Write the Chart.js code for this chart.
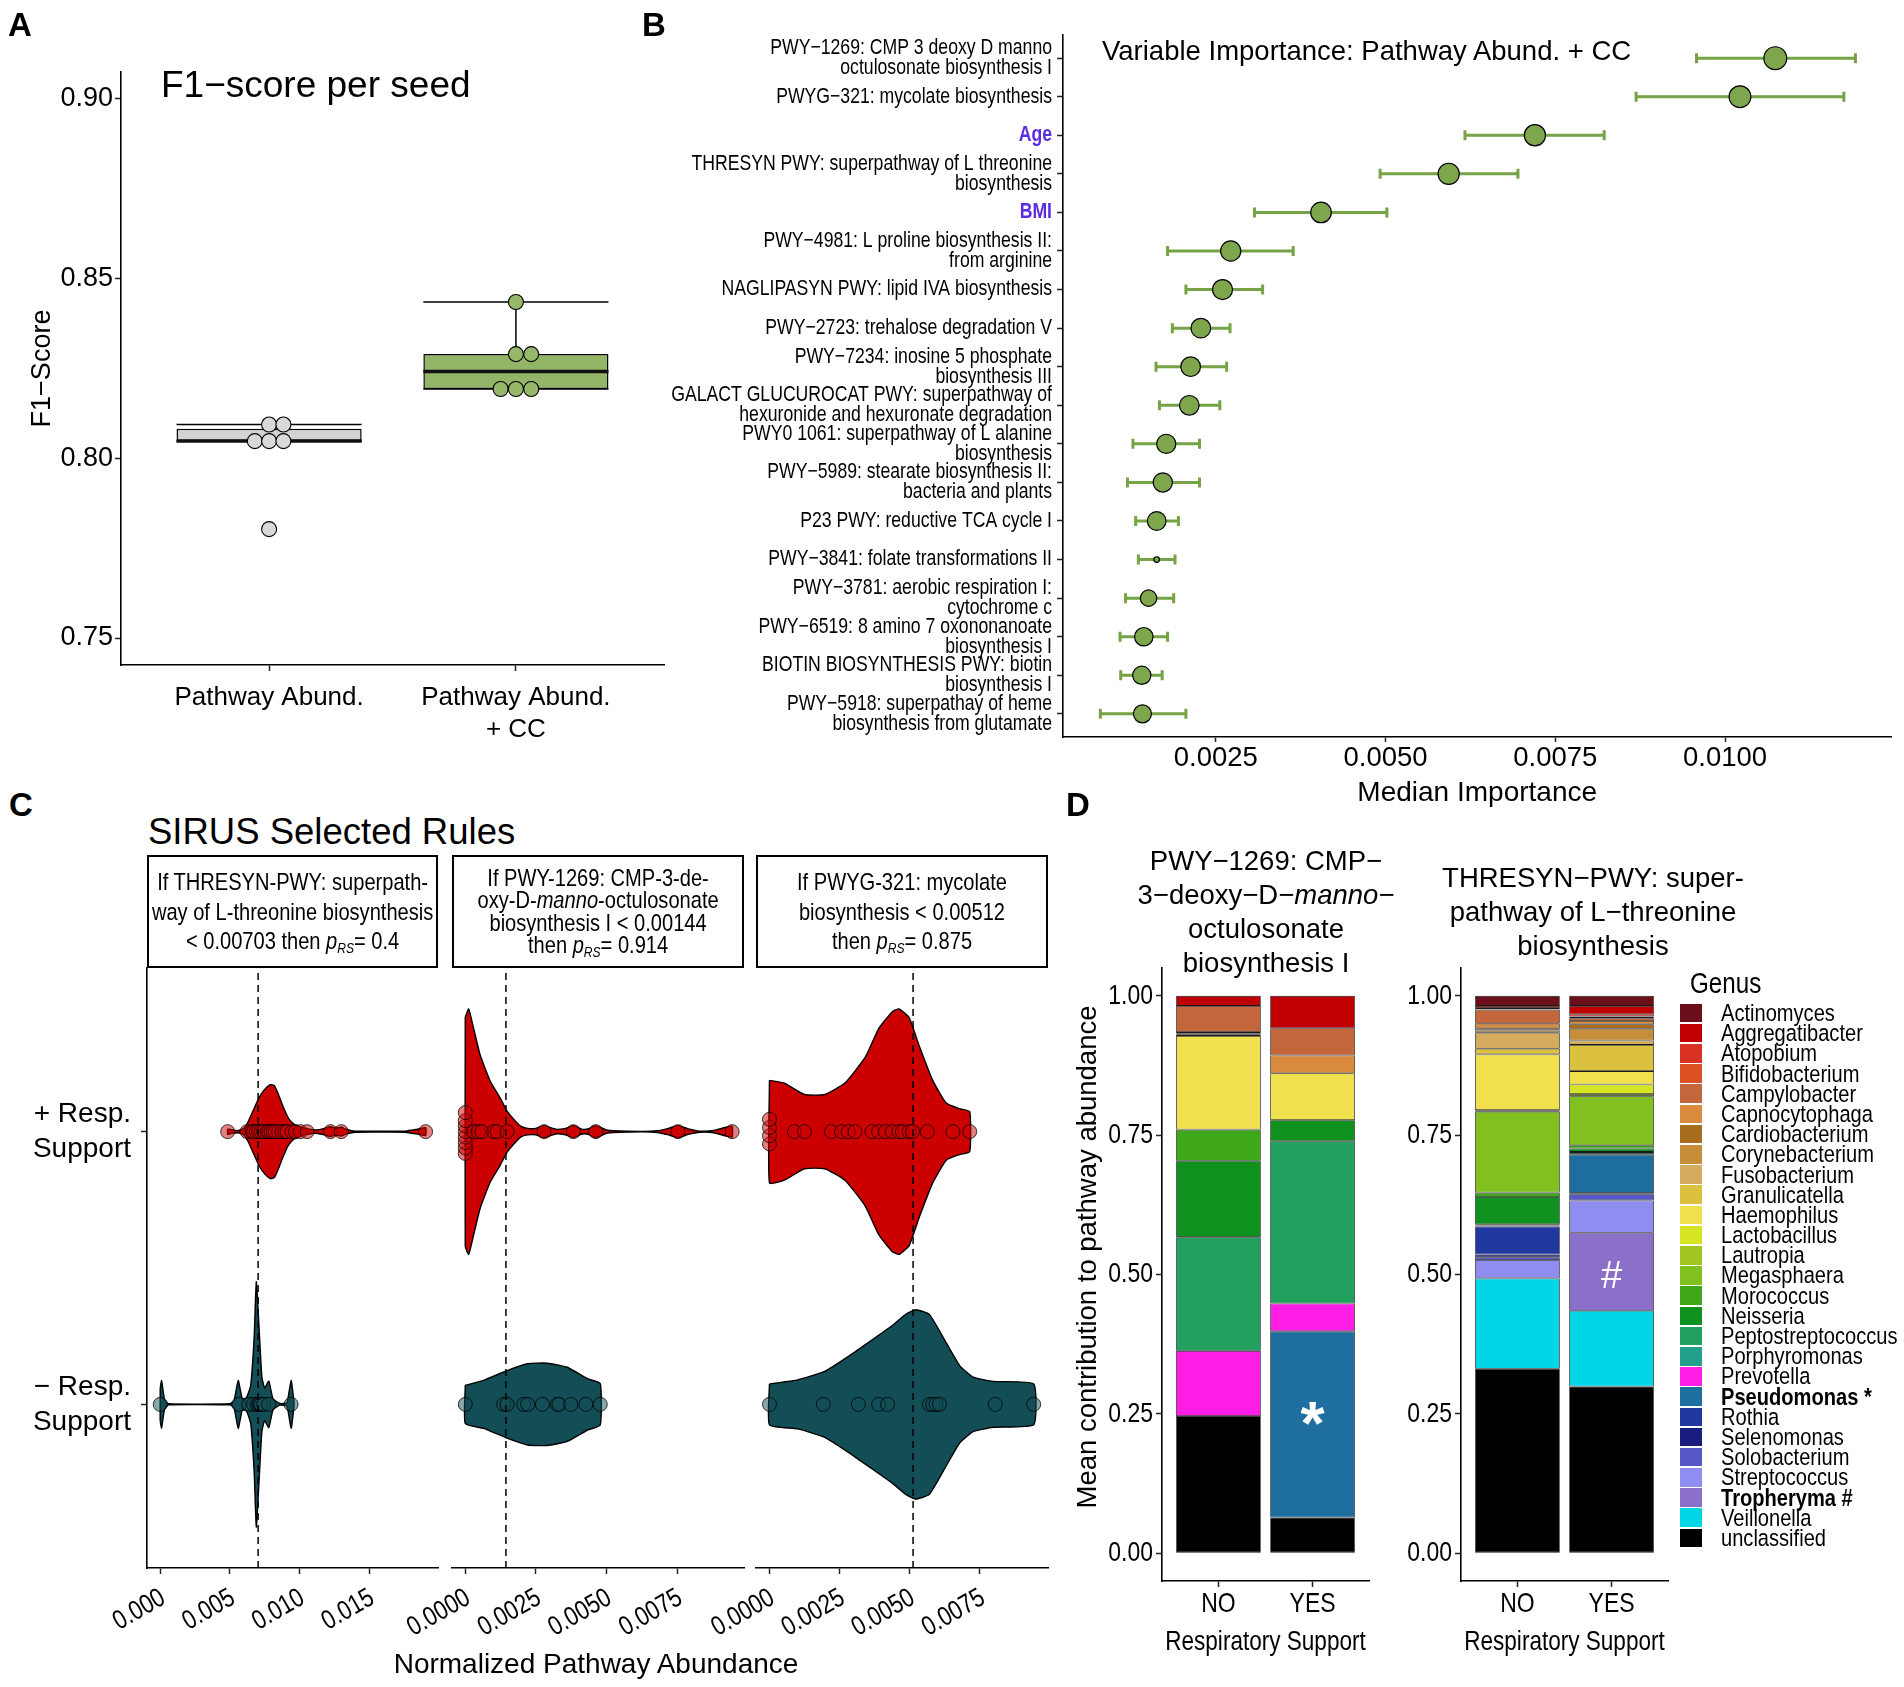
<!DOCTYPE html>
<html><head><meta charset="utf-8">
<script src="https://cdn.jsdelivr.net/npm/chart.js@4.4.1/dist/chart.umd.min.js"></script>
<style>
html,body{margin:0;padding:0;background:#fff;}
#page{position:relative;width:1904px;height:1687px;overflow:hidden;background:#fff;font-family:'Liberation Sans',Arial,sans-serif;color:#000;}
canvas{position:absolute;}
.t{position:absolute;white-space:nowrap;line-height:1;}
.nx{display:inline-block;transform:scaleX(0.82);transform-origin:left center;white-space:nowrap;}
.strip{position:absolute;box-sizing:border-box;border:2px solid #000;display:flex;align-items:center;justify-content:center;text-align:center;white-space:nowrap;}
.strip .in{transform:scaleX(0.82);transform-origin:center center;}
.strip sub{font-size:60%;vertical-align:-0.3em;line-height:0;}
</style></head><body><div id="page"></div>
<script>
// ---------------- DATA ----------------
// Panel A: F1-score per seed
const modelsA = ['Pathway Abund.', 'Pathway Abund.\n+ CC'];
const f1PathwayAbund   = [0.8094, 0.8094, 0.8048, 0.8048, 0.8048, 0.7803];
const f1PathwayAbundCC = [0.8435, 0.8290, 0.8290, 0.8193, 0.8193, 0.8193];
const jitterPathwayAbund   = [0.000, 0.058, -0.058, 0.000, 0.058, 0.000];
const jitterPathwayAbundCC = [0.000, 0.000, 0.062, -0.062, 0.000, 0.062];
const ticksA = [0.75, 0.80, 0.85, 0.90];

// Panel B: variable importance
const featuresB = [
  'PWY−1269: CMP 3 deoxy D manno\noctulosonate biosynthesis I',
  'PWYG−321: mycolate biosynthesis',
  'Age',
  'THRESYN PWY: superpathway of L threonine\nbiosynthesis',
  'BMI',
  'PWY−4981: L proline biosynthesis II:\nfrom arginine',
  'NAGLIPASYN PWY: lipid IVA biosynthesis',
  'PWY−2723: trehalose degradation V',
  'PWY−7234: inosine 5 phosphate\nbiosynthesis III',
  'GALACT GLUCUROCAT PWY: superpathway of\nhexuronide and hexuronate degradation',
  'PWY0 1061: superpathway of L alanine\nbiosynthesis',
  'PWY−5989: stearate biosynthesis II:\nbacteria and plants',
  'P23 PWY: reductive TCA cycle I',
  'PWY−3841: folate transformations II',
  'PWY−3781: aerobic respiration I:\ncytochrome c',
  'PWY−6519: 8 amino 7 oxononanoate\nbiosynthesis I',
  'BIOTIN BIOSYNTHESIS PWY: biotin\nbiosynthesis I',
  'PWY−5918: superpathay of heme\nbiosynthesis from glutamate'
];
const covariatesB = ['Age', 'BMI'];
const medianImportance = [0.01074, 0.01022, 0.00720, 0.00593, 0.00405, 0.00272, 0.00260, 0.00228, 0.00213, 0.00211, 0.00177, 0.00172, 0.00163, 0.00163, 0.00151, 0.00144, 0.00141, 0.00142];
const importanceLow    = [0.00958, 0.00869, 0.00617, 0.00492, 0.00307, 0.00179, 0.00206, 0.00186, 0.00162, 0.00167, 0.00128, 0.00120, 0.00132, 0.00136, 0.00117, 0.00109, 0.00110, 0.00080];
const importanceHigh   = [0.01192, 0.01175, 0.00822, 0.00695, 0.00502, 0.00364, 0.00319, 0.00271, 0.00266, 0.00256, 0.00226, 0.00226, 0.00195, 0.00190, 0.00188, 0.00179, 0.00171, 0.00206];
const pointSizeB       = [11.4, 10.9, 10.6, 10.6, 10.3, 10.1, 10.0, 9.8, 9.8, 9.8, 9.6, 9.6, 9.3, 2.8, 8.2, 9.2, 9.1, 9.0];
const ticksB = [0.0025, 0.0050, 0.0075, 0.0100];

// Panel C: SIRUS rules
const ruleThresholds = [0.00703, 0.00144, 0.00512];
const rulePRS = ['0.4', '0.914', '0.875'];
const respRows = ['− Resp.\nSupport', '+ Resp.\nSupport'];
const ticksC1 = [0.000, 0.005, 0.010, 0.015];
const ticksC23 = [0.0000, 0.0025, 0.0050, 0.0075];
// violin half-width profiles [abundance, half-width]
const densTHR_plus = [[0.00484,0.010],[0.0052,0.006],[0.0056,0.004],[0.0060,0.012],[0.0063,0.035],[0.0067,0.080],[0.0071,0.125],[0.0075,0.155],[0.0079,0.172],[0.0082,0.168],[0.0085,0.135],[0.0088,0.095],[0.0092,0.050],[0.0096,0.028],[0.0101,0.016],[0.0106,0.010],[0.0112,0.006],[0.0118,0.012],[0.0122,0.018],[0.0126,0.013],[0.0130,0.016],[0.0134,0.008],[0.0140,0.002],[0.0160,0.0015],[0.0176,0.002],[0.0184,0.008],[0.01906,0.014]];
const densTHR_minus = [[0.0000,0.060],[0.0001,0.087],[0.0003,0.020],[0.0006,0.002],[0.0050,0.002],[0.0053,0.012],[0.0056,0.088],[0.0059,0.020],[0.0062,0.025],[0.0065,0.070],[0.00675,0.250],[0.0069,0.450],[0.0071,0.280],[0.0073,0.100],[0.0075,0.060],[0.0078,0.085],[0.0081,0.020],[0.0086,0.003],[0.0091,0.006],[0.0094,0.088],[0.0096,0.010]];
const densPWY_plus = [[0.0000,0.420],[0.00012,0.450],[0.0003,0.377],[0.00053,0.280],[0.00089,0.184],[0.00124,0.123],[0.00148,0.075],[0.00172,0.045],[0.00196,0.020],[0.0022,0.012],[0.0025,0.012],[0.00279,0.022],[0.0031,0.012],[0.00326,0.008],[0.00355,0.012],[0.00383,0.022],[0.0041,0.010],[0.00421,0.008],[0.0044,0.012],[0.00462,0.022],[0.0050,0.006],[0.00527,0.003],[0.00622,0.001],[0.0068,0.003],[0.0072,0.012],[0.00753,0.022],[0.0079,0.010],[0.0083,0.002],[0.0088,0.004],[0.0092,0.015],[0.00945,0.020]];
const densPWY_minus = [[0.0000,0.070],[0.00065,0.088],[0.00148,0.124],[0.0022,0.149],[0.0029,0.151],[0.00361,0.136],[0.00433,0.094],[0.00478,0.076]];
const densMYC_plus = [[0.0000,0.188],[0.00053,0.178],[0.00125,0.136],[0.00197,0.136],[0.00269,0.178],[0.00341,0.272],[0.00389,0.377],[0.00438,0.440],[0.00462,0.450],[0.00498,0.418],[0.00534,0.314],[0.00582,0.188],[0.0063,0.105],[0.00678,0.084],[0.00714,0.073]];
const densMYC_minus = [[0.0000,0.075],[0.00101,0.090],[0.00197,0.121],[0.00293,0.184],[0.00365,0.236],[0.00438,0.289],[0.00486,0.330],[0.00522,0.347],[0.0057,0.330],[0.0063,0.226],[0.00678,0.142],[0.00726,0.100],[0.00798,0.084],[0.00942,0.075]];
// observed abundances (points) and small vertical jitter
const ptsTHR_plus = [0.00484,0.00624,0.00660,0.00671,0.00690,0.00707,0.00725,0.00743,0.00767,0.00780,0.00796,0.00811,0.00827,0.00851,0.00875,0.00895,0.00911,0.00947,0.00971,0.01007,0.01055,0.01223,0.01300,0.01906];
const ptsTHR_minus = [0.0000,0.00564,0.00636,0.00671,0.00695,0.00707,0.00715,0.00724,0.00743,0.00779,0.00940];
const ptsPWY_plus = [0,0,0,0,0,0,0,0,0.00030,0.00047,0.00059,0.00101,0.00113,0.00148,0.00279,0.00383,0.00462,0.00753,0.00945];
const jitPWY_plus = [-0.08,-0.06,-0.04,-0.02,0.00,0.02,0.04,0.07,0,0,0,0,0,0,0,0,0,0,0];
const ptsPWY_minus = [0.0000,0.00136,0.00148,0.00207,0.00221,0.00273,0.00326,0.00332,0.00374,0.00427,0.00478];
const ptsMYC_plus = [0,0,0,0,0.00089,0.00125,0.00221,0.00257,0.00281,0.00305,0.00365,0.00389,0.00413,0.00438,0.00462,0.00474,0.00498,0.00510,0.00563,0.00654,0.00714];
const jitMYC_plus = [-0.045,-0.015,0.015,0.045,0,0,0,0,0,0,0,0,0,0,0,0,0,0,0,0,0];
const ptsMYC_minus = [0.0000,0.00192,0.00317,0.00389,0.00421,0.00570,0.00582,0.00594,0.00606,0.00805,0.00942];

// Panel D: genus contributions
const genera = ['Actinomyces','Aggregatibacter','Atopobium','Bifidobacterium','Campylobacter','Capnocytophaga','Cardiobacterium','Corynebacterium','Fusobacterium','Granulicatella','Haemophilus','Lactobacillus','Lautropia','Megasphaera','Morococcus','Neisseria','Peptostreptococcus','Porphyromonas','Prevotella','Pseudomonas','Rothia','Selenomonas','Solobacterium','Streptococcus','Tropheryma','Veillonella','unclassified'];
const genusColors = ['#6b0f1a','#c00000','#da3224','#dd5123','#c4663c','#da8a3c','#a86d1d','#c68d3b','#d5ab5e','#dcc13e','#f0e04e','#d5e524','#a3c522','#80c11f','#3fa81a','#0f9120','#22a05e','#23a08c','#ff1ee6','#1e6fa0','#2038a0','#191b7d','#5758c7','#8f8ef0','#8a70c9','#00d6e6','#000000'];
const boldGenera = {'Pseudomonas':' *', 'Tropheryma':' #'};
const respLevels = ['NO', 'YES'];
const pwy1269_NO  = [0,0.018,0,0,0.047,0.003,0,0.002,0.002,0,0.168,0,0,0,0.056,0.137,0.204,0,0.117,0,0,0,0,0,0,0,0.246];
const pwy1269_YES = [0,0.058,0,0,0.049,0.032,0,0,0,0,0.084,0,0,0,0,0.038,0.291,0,0.050,0.334,0,0,0,0,0,0,0.064];
const thresyn_NO  = [0.018,0.004,0.002,0.001,0.025,0.008,0.004,0.004,0.029,0.010,0.100,0.001,0.002,0.145,0.008,0.049,0.002,0.002,0,0,0.050,0.005,0.005,0.033,0,0.162,0.331];
const thresyn_YES = [0.018,0.015,0.004,0.003,0.005,0.006,0.008,0.021,0.008,0.047,0.024,0.017,0.004,0.088,0.006,0.006,0.002,0.003,0,0.069,0,0.002,0.011,0.058,0.140,0.136,0.299];
const markerPWY = {text:'*', x:2, y:0.25};
const markerTHR = {text:'#', x:2, y:0.50};
const ticksD = [0, 0.25, 0.50, 0.75, 1.00];

// ---------------- HELPERS ----------------
const SANS = "'Liberation Sans', Arial, sans-serif";
// condensed face (Arial Narrow look): drawn with Liberation Sans compressed horizontally
const NARROW = "'Liberation Sans Narrow', 'Liberation Sans', Arial, sans-serif";
const NSCALE = 0.82;
(function(){
  const P = CanvasRenderingContext2D.prototype, f = P.fillText, m = P.measureText;
  P.fillText = function(t, x, y, mw){
    if (/Narrow/.test(this.font)) {
      this.save(); this.translate(x, y); this.scale(NSCALE, 1);
      if (mw !== undefined && mw !== null) f.call(this, t, 0, 0, mw / NSCALE); else f.call(this, t, 0, 0);
      this.restore();
    } else if (mw !== undefined && mw !== null) f.call(this, t, x, y, mw); else f.call(this, t, x, y);
  };
  P.measureText = function(t){
    const r = m.call(this, t);
    if (!/Narrow/.test(this.font)) return r;
    return {width:r.width*NSCALE, actualBoundingBoxLeft:r.actualBoundingBoxLeft*NSCALE, actualBoundingBoxRight:r.actualBoundingBoxRight*NSCALE,
      actualBoundingBoxAscent:r.actualBoundingBoxAscent, actualBoundingBoxDescent:r.actualBoundingBoxDescent,
      fontBoundingBoxAscent:r.fontBoundingBoxAscent, fontBoundingBoxDescent:r.fontBoundingBoxDescent};
  };
})();
const page = document.getElementById('page');
Chart.defaults.color = '#000';
function mkCanvas(x, y, w, h){ const c=document.createElement('canvas'); c.width=w; c.height=h; Object.assign(c.style,{left:x+'px',top:y+'px',width:w+'px',height:h+'px'}); page.appendChild(c); return c; }
function el(cls, style, html){ const e=document.createElement('div'); e.className=cls; Object.assign(e.style, style); e.innerHTML=html; page.appendChild(e); return e; }
function fixW(w){ return s=>{ s.width=w; s.paddingTop=0; s.paddingBottom=0; s.paddingLeft=0; s.paddingRight=0; }; }
function fixH(h){ return s=>{ s.height=h; s.paddingTop=0; s.paddingBottom=0; s.paddingLeft=0; s.paddingRight=0; }; }
function setTicks(v){ return s=>{ s.ticks=v.map(x=>({value:x})); }; }
function axis(extra){
  return Object.assign({
    offset:false,
    border:{display:true,color:'#000',width:1.6},
    grid:{display:true,drawOnChartArea:false,drawTicks:true,tickLength:6,tickColor:'#222',tickWidth:1.5,offset:false}
  }, extra);
}
function segData(segs){ const out=[]; segs.forEach(([x1,y1,x2,y2])=>{ out.push({x:x1,y:y1},{x:x2,y:y2},{x:x2,y:null}); }); return out; }
function q7(arr,p){ const s=[...arr].sort((a,b)=>a-b); const h=(s.length-1)*p; const lo=Math.floor(h); const hi=Math.min(lo+1,s.length-1); return s[lo]+(h-lo)*(s[hi]-s[lo]); }
function boxStats(v){ const q1=q7(v,.25),med=q7(v,.5),q3=q7(v,.75),iqr=q3-q1; const ins=v.filter(x=>x>=q1-1.5*iqr&&x<=q3+1.5*iqr); return {q1,med,q3,lo:Math.min(...ins),hi:Math.max(...ins)}; }
const baseOpts = { responsive:false, animation:false, devicePixelRatio:1, events:[], plugins:{legend:{display:false}, tooltip:{enabled:false}} };

// ---------------- PANEL A ----------------
(function(){
  const groups=[f1PathwayAbund,f1PathwayAbundCC], jit=[jitterPathwayAbund,jitterPathwayAbundCC];
  const stats=groups.map(boxStats), h=0.375;
  const boxFill=['#d3d3d3','#93b567'], ptFill=['#d9d9d9','#97b86a'];
  const whisk=[], med=[];
  stats.forEach((s,i)=>{ const c=i+1;
    whisk.push([c,s.q3,c,s.hi],[c,s.lo,c,s.q1],[c-h,s.hi,c+h,s.hi],[c-h,s.lo,c+h,s.lo]);
    med.push([c-h,s.med,c+h,s.med]); });
  const ds=[
    {type:'bar',data:stats.map((s,i)=>({x:i+1,y:[s.q1,s.q3]})),backgroundColor:boxFill,borderColor:'#000',borderWidth:1.5,borderSkipped:false,categoryPercentage:1,barPercentage:0.75,order:5},
    {type:'line',data:segData(whisk),borderColor:'#000',borderWidth:1.5,pointRadius:0,fill:false,order:4},
    {type:'line',data:segData(med),borderColor:'#111',borderWidth:3.5,pointRadius:0,fill:false,order:3}
  ];
  groups.forEach((g,i)=>ds.push({type:'scatter',data:g.map((v,j)=>({x:i+1+jit[i][j],y:v})),pointRadius:7.5,backgroundColor:ptFill[i],borderColor:'#000',borderWidth:1.1,order:1}));
  new Chart(mkCanvas(0,0,680,760),{type:'bar',data:{datasets:ds},options:Object.assign({},baseOpts,{
    layout:{padding:{left:0,top:72,right:16,bottom:0}},
    scales:{
      x:axis({type:'linear',min:0.4,max:2.6,afterBuildTicks:setTicks([1,2]),afterFit:fixH(95),
        ticks:{autoSkip:false,maxRotation:0,minRotation:0,padding:11,color:'#000',font:{family:SANS,size:26,lineHeight:32/26},callback:(v,i)=>modelsA[i].split('\n')}}),
      y:axis({type:'linear',min:0.7425,max:0.9075,afterBuildTicks:setTicks(ticksA),afterFit:fixW(121),
        ticks:{padding:2,color:'#000',font:{family:SANS,size:27},callback:v=>v.toFixed(2)},
        title:{display:true,text:'F1−Score',color:'#000',font:{family:SANS,size:27,lineHeight:1.2},padding:{top:26.8,bottom:0}}})
    }})});
})();

// ---------------- PANEL B ----------------
(function(){
  const d=0.13, segs=[];
  medianImportance.forEach((m,i)=>{ const r=i+1, lo=importanceLow[i], hi=importanceHigh[i];
    segs.push([lo,r,hi,r],[lo,r-d,lo,r+d],[hi,r-d,hi,r+d]); });
  const isCov=ctx=>ctx&&ctx.tick&&covariatesB.includes(featuresB[ctx.tick.value-1]);
  new Chart(mkCanvas(600,0,1304,830),{type:'scatter',data:{datasets:[
    {type:'line',data:segData(segs),borderColor:'#76a346',borderWidth:3,pointRadius:0,fill:false,order:2},
    {type:'scatter',data:medianImportance.map((v,i)=>({x:v,y:i+1})),pointRadius:pointSizeB,backgroundColor:'#7ea64d',borderColor:'#000',borderWidth:1.2,order:1}
  ]},options:Object.assign({},baseOpts,{
    layout:{padding:{left:0,top:35,right:7,bottom:0}},
    scales:{
      x:axis({type:'linear',min:0.00025,max:0.01245,afterBuildTicks:setTicks(ticksB),afterFit:fixH(93),
        grid:{display:true,drawOnChartArea:false,drawTicks:true,tickLength:5,tickColor:'#222',tickWidth:1.5,offset:false},
        ticks:{autoSkip:false,maxRotation:0,minRotation:0,padding:0,color:'#000',font:{family:SANS,size:27.5},callback:v=>v.toFixed(4)},
        title:{display:true,text:'Median Importance',color:'#000',font:{family:SANS,size:28,lineHeight:1.2},padding:{top:0,bottom:20.2}}}),
      y:axis({type:'linear',reverse:true,min:0.4,max:18.6,afterBuildTicks:setTicks(featuresB.map((f,i)=>i+1)),afterFit:fixW(463),
        ticks:{autoSkip:false,padding:5,
          color:ctx=>isCov(ctx)?'#5a2de0':'#000',
          font:ctx=>({family:NARROW,size:21.5,weight:isCov(ctx)?'bold':'normal',lineHeight:20/21.5}),
          callback:v=>featuresB[v-1].split('\n')}})
    }})});
})();

// ---------------- PANEL C ----------------
function violinPoly(dens, c){ const up=dens.map(([x,h])=>({x,y:c+h})); const lo=dens.slice().reverse().map(([x,h])=>({x,y:c-h})); return up.concat(lo,[up[0]]); }
function facet(cv, padL, padR, yw, xr, xt, dec, plus, minus, ptsP, jitP, ptsM, thr, showY){
  const red='#cd0000', teal='#134e57';
  const ds=[
    {type:'line',data:violinPoly(plus,2),borderColor:'#000',borderWidth:1.4,backgroundColor:red,fill:'shape',pointRadius:0,tension:0.15,order:4},
    {type:'line',data:violinPoly(minus,1),borderColor:'#000',borderWidth:1.4,backgroundColor:teal,fill:'shape',pointRadius:0,tension:0.15,order:4},
    {type:'scatter',data:ptsP.map((v,i)=>({x:v,y:2+(jitP?jitP[i]:0)})),pointRadius:7,backgroundColor:'rgba(205,0,0,0.5)',borderColor:'rgba(0,0,0,0.75)',borderWidth:1,order:2},
    {type:'scatter',data:ptsM.map(v=>({x:v,y:1})),pointRadius:7,backgroundColor:'rgba(19,78,87,0.5)',borderColor:'rgba(0,0,0,0.75)',borderWidth:1,order:2},
    {type:'line',data:[{x:thr,y:0.4},{x:thr,y:2.6}],borderColor:'#000',borderWidth:1.5,borderDash:[7,5],pointRadius:0,fill:false,order:1}
  ];
  const xs=axis({type:'linear',min:xr[0],max:xr[1],afterBuildTicks:setTicks(xt),afterFit:fixH(119),
    ticks:{autoSkip:false,minRotation:30,maxRotation:30,padding:8,labelOffset:3,color:'#000',font:{family:NARROW,size:27},callback:v=>v.toFixed(dec)}});
  const ys=showY? axis({type:'linear',min:0.4,max:2.6,afterBuildTicks:setTicks([1,2]),afterFit:fixW(yw),
    ticks:{autoSkip:false,padding:10,color:'#000',font:{family:SANS,size:28,lineHeight:1.25},callback:v=>respRows[v-1].split('\n')}})
    : {type:'linear',min:0.4,max:2.6,display:false};
  new Chart(cv,{type:'scatter',data:{datasets:ds},options:Object.assign({},baseOpts,{
    layout:{padding:{left:padL,top:8,right:padR,bottom:0}}, scales:{x:xs,y:ys}})});
}
facet(mkCanvas(0,960,450,727),0,12,147,[-0.00095,0.01995],ticksC1,3,densTHR_plus,densTHR_minus,ptsTHR_plus,null,ptsTHR_minus,ruleThresholds[0],true);
facet(mkCanvas(360,960,400,727),92,16,0,[-0.00047,0.00987],ticksC23,4,densPWY_plus,densPWY_minus,ptsPWY_plus,jitPWY_plus,ptsPWY_minus,ruleThresholds[1],false);
facet(mkCanvas(660,960,400,727),96,12,0,[-0.00048,0.00993],ticksC23,4,densMYC_plus,densMYC_minus,ptsMYC_plus,jitMYC_plus,ptsMYC_minus,ruleThresholds[2],false);

// ---------------- PANEL D ----------------
const markerPlugin={id:'marker',afterDatasetsDraw(chart,args,opts){
  const it=opts.item; if(!it) return; const {ctx,scales:{x,y}}=chart;
  ctx.save(); ctx.font=opts.font; ctx.fillStyle='#fff'; ctx.textAlign='center'; ctx.textBaseline='alphabetic';
  const m=ctx.measureText(it.text);
  ctx.fillText(it.text,x.getPixelForValue(it.x),y.getPixelForValue(it.y)+(m.actualBoundingBoxAscent-m.actualBoundingBoxDescent)/2);
  ctx.restore(); }};
function stackChart(cv, yw, padR, noVals, yesVals, marker, markerFont){
  const ds=[];
  for(let g=genera.length-1; g>=0; g--){
    const pts=[]; if(noVals[g]>0) pts.push({x:1,y:noVals[g]}); if(yesVals[g]>0) pts.push({x:2,y:yesVals[g]});
    ds.push({type:'bar',label:genera[g],data:pts,backgroundColor:genusColors[g],borderColor:'#1a1a1a',borderWidth:0.8,borderSkipped:false,categoryPercentage:0.9,barPercentage:1});
  }
  new Chart(cv,{type:'bar',data:{datasets:ds},plugins:[markerPlugin],options:Object.assign({},baseOpts,{
    plugins:{legend:{display:false},tooltip:{enabled:false},marker:{item:marker,font:markerFont}},
    layout:{padding:{left:0,top:18,right:padR,bottom:0}},
    scales:{
      x:axis({type:'linear',stacked:true,min:0.4,max:2.6,afterBuildTicks:setTicks([1,2]),afterFit:fixH(106),
        ticks:{autoSkip:false,maxRotation:0,minRotation:0,padding:0.2,color:'#000',font:{family:NARROW,size:28,lineHeight:1.2},callback:v=>respLevels[v-1]},
        title:{display:true,text:'Respiratory Support',color:'#000',font:{family:NARROW,size:27.5,lineHeight:1.2},padding:{top:0,bottom:28.5}}}),
      y:axis({type:'linear',stacked:true,min:-0.05,max:1.05,afterBuildTicks:setTicks(ticksD),afterFit:fixW(yw),
        ticks:{padding:3,color:'#000',font:{family:NARROW,size:28},callback:v=>v.toFixed(2)}})
    }})});
}
stackChart(mkCanvas(1060,950,320,737),102,11,pwy1269_NO,pwy1269_YES,markerPWY,"bold 62px 'Liberation Sans', Arial, sans-serif");
stackChart(mkCanvas(1380,950,300,737),81,12,thresyn_NO,thresyn_YES,markerTHR,"38px 'Liberation Sans', Arial, sans-serif");

// ---------------- TEXT / ANNOTATIONS ----------------
[['A',8,8],['B',642,8],['C',9,788],['D',1066,788]].forEach(([s,x,y])=>el('t',{left:x+'px',top:y+'px',fontSize:'33px',fontWeight:'bold'},s));
el('t',{left:'161px',top:'66px',fontSize:'37px'},'F1−score per seed');
el('t',{left:'1102px',top:'36.5px',fontSize:'27.5px'},'Variable Importance: Pathway Abund. + CC');
el('t',{left:'148px',top:'814px',fontSize:'36.5px'},'SIRUS Selected Rules');
el('t',{left:'596px',top:'1664px',fontSize:'28px',transform:'translate(-50%,-50%)'},'Normalized Pathway Abundance');
el('t',{left:'1087px',top:'1257px',fontSize:'27.5px',transform:'translate(-50%,-50%) rotate(-90deg)'},'Mean contribution to pathway abundance');
const pRS = i=>'<i>p</i><sub><i>RS</i></sub>= '+rulePRS[i];
const stripHTML=[
  ['If THRESYN-PWY: superpath-','way of L-threonine biosynthesis','&lt; '+ruleThresholds[0]+' then '+pRS(0)],
  ['If PWY-1269: CMP-3-de-','oxy-D-<i>manno</i>-octulosonate','biosynthesis I &lt; '+ruleThresholds[1],'then '+pRS(1)],
  ['If PWYG-321: mycolate','biosynthesis &lt; '+ruleThresholds[2],'then '+pRS(2)]
];
const stripX=[[147,438],[452,744],[756,1048]];
stripHTML.forEach((lines,i)=>el('strip',{left:stripX[i][0]+'px',top:'855px',width:(stripX[i][1]-stripX[i][0])+'px',height:'113px',fontSize:'24.5px',lineHeight:(lines.length>3?'22.5px':'29.5px')},'<div class="in">'+lines.join('<br>')+'</div>'));
el('t',{left:'1066px',top:'844px',width:'400px',textAlign:'center',fontSize:'27.5px',lineHeight:'34px'},'PWY−1269: CMP−<br>3−deoxy−D−<i>manno</i>−<br>octulosonate<br>biosynthesis I');
el('t',{left:'1393px',top:'861px',width:'400px',textAlign:'center',fontSize:'27.5px',lineHeight:'34px'},'THRESYN−PWY: super-<br>pathway of L−threonine<br>biosynthesis');
// legend
el('t',{left:'1690px',top:'968px',fontSize:'29.5px'},'<span class="nx">Genus</span>');
genera.forEach((g,i)=>{
  const cy=1013+20.19*i;
  el('t',{left:'1680px',top:(cy-9.3)+'px',width:'22px',height:'18.6px',background:genusColors[i]},'');
  const b=boldGenera[g];
  el('t',{left:'1721px',top:(cy-12)+'px',fontSize:'24.5px',fontWeight:b?'bold':'normal'},'<span class="nx">'+g+(b||'')+'</span>');
});
</script></body></html>
